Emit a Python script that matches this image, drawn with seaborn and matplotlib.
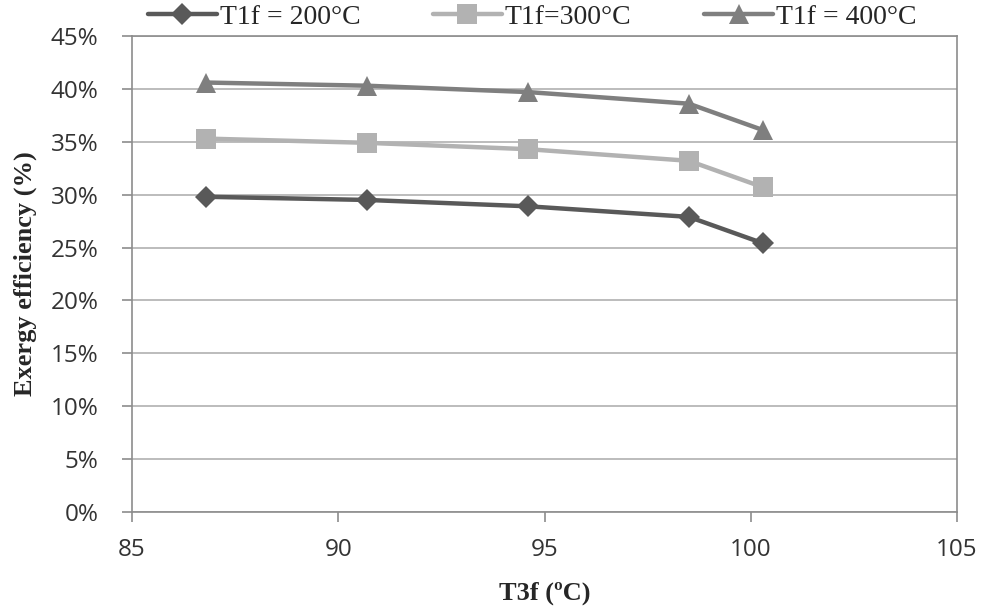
import matplotlib
matplotlib.use("Agg")
import matplotlib.pyplot as plt
import seaborn as sns
import pandas as pd
from matplotlib.ticker import PercentFormatter, MultipleLocator

t3f = [86.8, 90.7, 94.6, 98.5, 100.3]
eff_200 = [29.8, 29.5, 28.9, 27.9, 25.4]
eff_300 = [35.3, 34.9, 34.3, 33.2, 30.7]
eff_400 = [40.6, 40.3, 39.7, 38.6, 36.1]
series_labels = ["T1f = 200°C", "T1f=300°C", "T1f = 400°C"]

df = pd.DataFrame({
    "T3f": t3f * 3,
    "eff": eff_200 + eff_300 + eff_400,
    "series": [series_labels[0]] * 5 + [series_labels[1]] * 5 + [series_labels[2]] * 5,
})

sns.set_theme(style="white")
plt.rcParams["font.family"] = ["Open Sans", "DejaVu Sans"]

fig = plt.figure(figsize=(9.82, 6.08), dpi=100)
ax = fig.add_axes([132/982, 1 - 512/608, (957-132)/982, (512-36)/608])

palette = {series_labels[0]: "#595959", series_labels[1]: "#b2b2b2", series_labels[2]: "#7f7f7f"}
markers = {series_labels[0]: "D", series_labels[1]: "s", series_labels[2]: "^"}
sizes = {series_labels[0]: 11, series_labels[1]: 15, series_labels[2]: 15}

for lab in series_labels:
    sub = df[df["series"] == lab]
    sns.lineplot(data=sub, x="T3f", y="eff", ax=ax, color=palette[lab], marker=markers[lab],
                 markersize=sizes[lab], linewidth=3.2, markeredgewidth=0, label=lab,
                 zorder=3)

ax.set_xlim(85, 105)
ax.set_ylim(0, 45)
ax.xaxis.set_major_locator(MultipleLocator(5))
ax.yaxis.set_major_locator(MultipleLocator(5))
ax.yaxis.set_major_formatter(PercentFormatter(decimals=0))
ax.grid(axis="y", color="#b0b0b0", linewidth=1.2)
ax.grid(axis="x", visible=False)
for s in ax.spines.values():
    s.set_color("#8c8c8c")
    s.set_linewidth(1.2)
ax.tick_params(axis="both", labelsize=17.5, colors="#8c8c8c", labelcolor="#333333",
               direction="out", length=7, width=1.2, bottom=True, left=True)
ax.tick_params(axis="y", pad=17)
ax.tick_params(axis="x", pad=12)

ax.set_xlabel("T3f (ºC)", fontsize=19, fontweight="bold", family=["Liberation Serif"], labelpad=14)
ax.set_ylabel("Exergy efficiency (%)", fontsize=19, fontweight="bold", family=["Liberation Serif"], labelpad=10)

leg = ax.legend(loc="lower center", bbox_to_anchor=(0.485, 0.99), ncol=3, frameon=False,
                prop={"family": "Liberation Serif", "size": 20}, handlelength=2.5,
                columnspacing=2.6, handletextpad=0.1, borderaxespad=0)

fig.savefig("out.png", dpi=100)
